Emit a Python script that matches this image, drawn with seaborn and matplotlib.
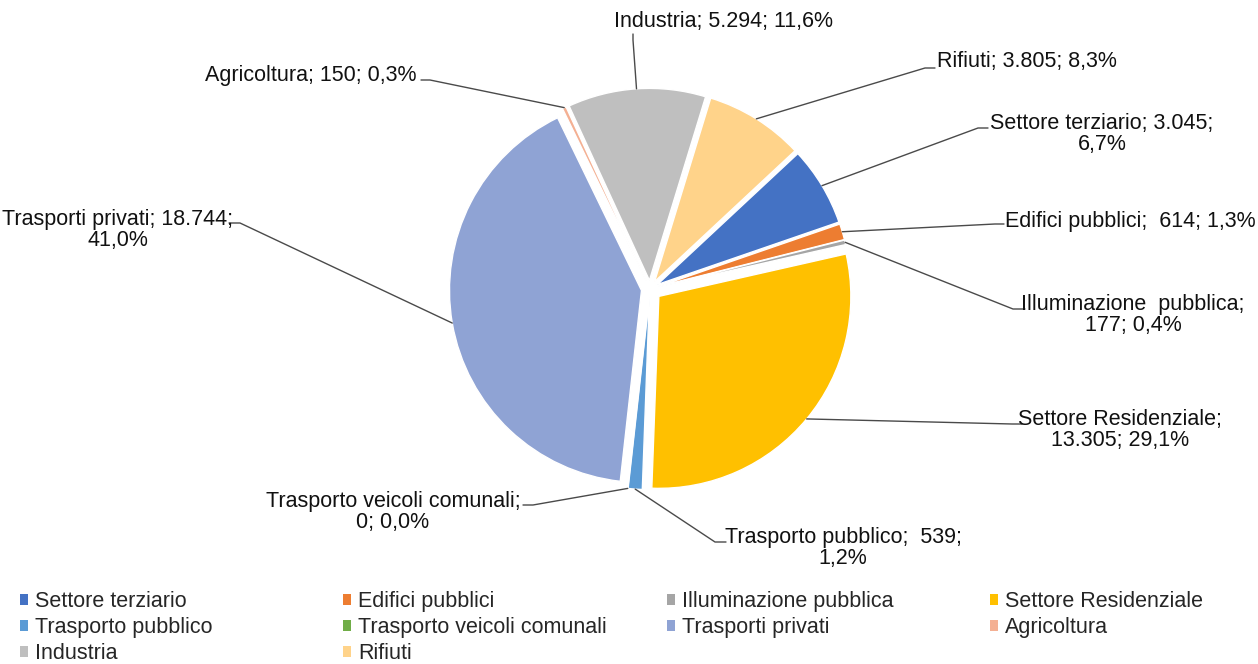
import numpy as np
import matplotlib
matplotlib.use("Agg")
import matplotlib.pyplot as plt
from matplotlib.patches import Patch
import seaborn as sns

# data
categories = ["Settore terziario", "Edifici pubblici", "Illuminazione pubblica",
              "Settore Residenziale", "Trasporto pubblico", "Trasporto veicoli comunali",
              "Trasporti privati", "Agricoltura", "Industria", "Rifiuti"]
values = [3045, 614, 177, 13305, 539, 0, 18744, 150, 5294, 3805]
colors = ["#4472C4", "#ED7D31", "#A5A5A5", "#FFC000", "#5B9BD5", "#70AD47",
          "#8FA3D4", "#F4B093", "#BFBFBF", "#FFD38A"]
# label names as printed (some with double spaces / line breaks)
label_names = ["Settore terziario", "Edifici pubblici", "Illuminazione  pubblica",
               "Settore Residenziale", "Trasporto pubblico", "Trasporto veicoli comunali",
               "Trasporti privati", "Agricoltura", "Industria", "Rifiuti"]
label_break = ["pct", None, "val", "val", "pct", "val", "pct", None, None, None]

sns.set_theme(style="white")
plt.rcParams['font.family'] = ['Liberation Sans', 'DejaVu Sans']
FS = 15.5

W, H = 1258, 664
fig = plt.figure(figsize=(W / 100, H / 100), dpi=100)

# pie axes: centre at (650, 289) px, radius 192 px
R = 192
cx, cy = 650, 289
half = 1.25 * R
ax = fig.add_axes([(cx - half) / W, (H - cy - half) / H, 2 * half / W, 2 * half / H])

explode = [0.045] * len(values)
explode[3] = 0.06
wedges, _ = ax.pie(values, colors=colors, startangle=43, counterclock=False,
                   explode=explode, wedgeprops=dict(edgecolor="white", linewidth=1))
ax.set_xlim(-1.25, 1.25)
ax.set_ylim(-1.25, 1.25)
ax.set_aspect("equal")
ax.axis("off")

total = sum(values)


def fmt_val(v):
    return f"{v:,}".replace(",", ".")


def fmt_pct(v):
    return f"{100 * v / total:.1f}%".replace(".", ",")


def to_data(px, py):
    return (px - cx) / R, (cy - py) / R


# text centre positions (px)
label_pos = [(1102, 134), (1130, 222), (1133, 315), (1120, 430), (843, 548),
             (393, 512), (118, 230), (311, 75), (724, 22), (1027, 62)]
# leader lines: elbow point and end point next to the text (px)
leader_elbow = [(978, 128), (995, 224), (1013, 309), (1012, 424), (715, 542),
                (533, 505), (240, 223), (430, 80), (633, 40), (925, 68)]
leader_end = [(988, 128), (1004, 224), (1025, 309), (1022, 424), (726, 542),
              (523, 505), (229, 223), (421, 80), (633, 34), (935, 68)]

for i, w in enumerate(wedges):
    name, v = label_names[i], values[i]
    sep = "  " if i in (1, 4) else " "
    if label_break[i] == "pct":
        txt = f"{name};{sep}{fmt_val(v)};\n{fmt_pct(v)}"
    elif label_break[i] == "val":
        txt = f"{name};\n{fmt_val(v)}; {fmt_pct(v)}"
    else:
        txt = f"{name};{sep}{fmt_val(v)}; {fmt_pct(v)}"
    th = np.deg2rad((w.theta1 + w.theta2) / 2)
    ex, ey = w.center[0] + w.r * np.cos(th), w.center[1] + w.r * np.sin(th)
    bx, by = to_data(*leader_elbow[i])
    tx, ty = to_data(*leader_end[i])
    ax.plot([ex, bx, tx], [ey, by, ty], color="#4a4a4a", lw=1, clip_on=False)
    px, py = label_pos[i]
    fig.text(px / W, 1 - py / H, txt, ha="center", va="center", fontsize=FS,
             color="#111111", linespacing=1.05)

# legend: four columns, row-major order like the original
handles = [Patch(facecolor=c, edgecolor="none") for c in colors]
col_x = [20, 343, 667, 990]
for c in range(4):
    idx = list(range(c, len(categories), 4))
    fig.legend([handles[j] for j in idx], [categories[j] for j in idx],
               loc="upper left", bbox_to_anchor=(col_x[c] / W, 1 - 591 / H),
               frameon=False, fontsize=FS, handlelength=0.37, handleheight=0.37,
               handletextpad=0.33, labelspacing=0.24, borderpad=0, borderaxespad=0)

fig.savefig("out.png", dpi=100, facecolor="white")
